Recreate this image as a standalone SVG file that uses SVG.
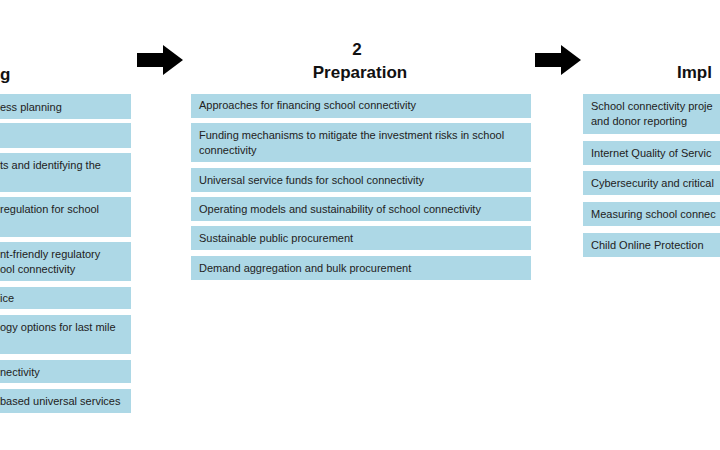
<svg xmlns="http://www.w3.org/2000/svg" width="720" height="450" viewBox="0 0 720 450">
<style>
.b{fill:#add8e6}
.t{font-family:"Liberation Sans",Arial,sans-serif;font-size:11px;fill:#222}
.h{font-family:"Liberation Sans",Arial,sans-serif;font-size:17px;font-weight:bold;fill:#111}
</style>
<rect width="720" height="450" fill="#fff"/>
<g id="arrows">
<polygon points="137,53 163,53 163,45 183,60 163,75 163,67 137,67" fill="#000"/>
<polygon points="535,53 561,53 561,45 581,60 561,75 561,67 535,67" fill="#000"/>
</g>
<g id="col1">
<text class="h" x="0" y="80">g</text>
<rect class="b" x="0" y="94" width="131" height="25"/><text class="t" x="0" y="111">ess planning</text>
<rect class="b" x="0" y="123" width="131" height="25"/>
<rect class="b" x="0" y="153" width="131" height="39"/><text class="t" x="0" y="169">ts and identifying the</text>
<rect class="b" x="0" y="197" width="131" height="40"/><text class="t" x="0" y="213">regulation for school</text>
<rect class="b" x="0" y="242" width="131" height="39"/><text class="t" x="0" y="258">nt-friendly regulatory</text><text class="t" x="0" y="273">ool connectivity</text>
<rect class="b" x="0" y="287" width="131" height="22"/><text class="t" x="0" y="302">ice</text>
<rect class="b" x="0" y="315" width="131" height="39"/><text class="t" x="0" y="331">ogy options for last mile</text>
<rect class="b" x="0" y="360" width="131" height="23"/><text class="t" x="0" y="376">nectivity</text>
<rect class="b" x="0" y="389" width="131" height="24"/><text class="t" x="0" y="405">based universal services</text>
</g>
<g id="col2">
<text class="h" x="357" y="55" text-anchor="middle">2</text>
<text class="h" x="360" y="78" text-anchor="middle">Preparation</text>
<rect class="b" x="191" y="94" width="340" height="24"/><text class="t" x="199" y="109">Approaches for financing school connectivity</text>
<rect class="b" x="191" y="123" width="340" height="39"/><text class="t" x="199" y="139">Funding mechanisms to mitigate the investment risks in school</text><text class="t" x="199" y="154">connectivity</text>
<rect class="b" x="191" y="168" width="340" height="24"/><text class="t" x="199" y="184">Universal service funds for school connectivity</text>
<rect class="b" x="191" y="197" width="340" height="24"/><text class="t" x="199" y="213">Operating models and sustainability of school connectivity</text>
<rect class="b" x="191" y="226" width="340" height="24"/><text class="t" x="199" y="242">Sustainable public procurement</text>
<rect class="b" x="191" y="256" width="340" height="24"/><text class="t" x="199" y="272">Demand aggregation and bulk procurement</text>
</g>
<g id="col3">
<text class="h" x="677" y="78">Impl</text>
<rect class="b" x="583" y="94" width="140" height="40"/><text class="t" x="591" y="110">School connectivity proje</text><text class="t" x="591" y="125">and donor reporting</text>
<rect class="b" x="583" y="141" width="140" height="24"/><text class="t" x="591" y="157">Internet Quality of Servic</text>
<rect class="b" x="583" y="171" width="140" height="24"/><text class="t" x="591" y="187">Cybersecurity and critical</text>
<rect class="b" x="583" y="202" width="140" height="24"/><text class="t" x="591" y="218">Measuring school connec</text>
<rect class="b" x="583" y="233" width="140" height="24"/><text class="t" x="591" y="249">Child Online Protection</text>
</g>
</svg>
